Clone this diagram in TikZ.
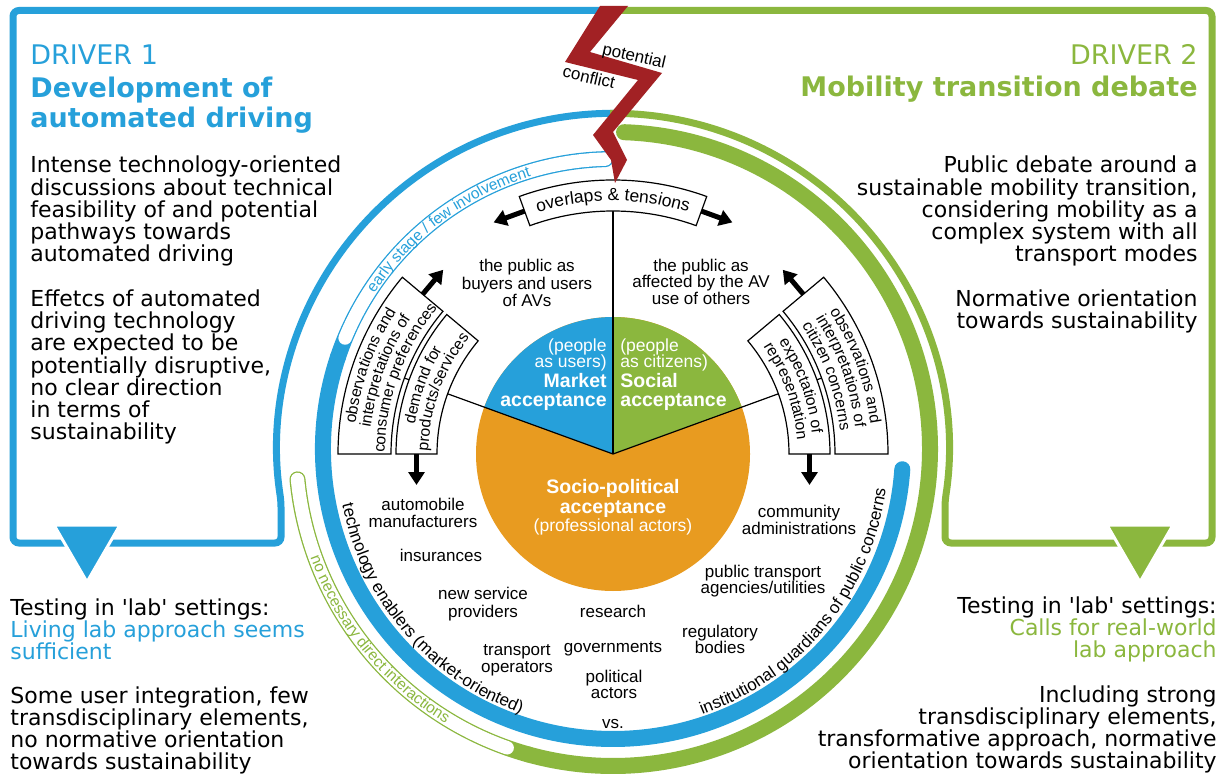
\documentclass[tikz,border=0pt]{standalone}
\usepackage{fontspec}
\setmainfont{DejaVu Sans}
\newfontfamily\ar{Liberation Sans}
\usetikzlibrary{arrows.meta}
\definecolor{cb}{HTML}{26A0DA}
\definecolor{cg}{HTML}{8BB73E}
\definecolor{co}{HTML}{E89B20}
\definecolor{cr}{HTML}{A22124}
\newcommand\myfs[1]{\fontsize{#1}{#1}\selectfont}
\newcounter{mych}
\newcommand\myplacechar[6]{\stepcounter{mych}\node[inner sep=0pt,anchor=base,rotate=#3,font=#4,text=#5] (ch\arabic{mych}) at (#1:#2) {#6};}
\ExplSyntaxOn
\fp_new:N \l_myarc_tot_fp
\fp_new:N \l_myarc_pos_fp
\fp_new:N \l_myarc_w_fp
\fp_new:N \l_myarc_cw_fp
\fp_new:N \l_myarc_ang_fp
\tl_new:N \l_myarc_chunk_tl
\box_new:N \l_myarc_box
\tl_new:N \g_myarc_tl
\tl_new:N \g_myarcb_tl
\cs_new_protected:Npn \myarc_flush:nnnnnn #1#2#3#4#5#6
  {
    \tl_if_empty:NF \l_myarc_chunk_tl
      {
        \fp_set:Nn \l_myarc_ang_fp { #5 + (#6) * ( \l_myarc_pos_fp + \l_myarc_cw_fp / 2 - \l_myarc_tot_fp / 2 ) / (#4) * 180 / pi }
        \tl_gput_right:cx { g_ #1 _tl }
          {
            \exp_not:N \myplacechar
              { \fp_eval:n { round(\l_myarc_ang_fp, 3) } }
              { #4 }
              { \fp_eval:n { round(0 - \l_myarc_ang_fp - 90 * (#6), 3) } }
              { \exp_not:n { #2 } }
              { #3 }
              { \exp_not:V \l_myarc_chunk_tl }
          }
        \fp_add:Nn \l_myarc_pos_fp { \l_myarc_cw_fp }
        \tl_clear:N \l_myarc_chunk_tl
        \fp_zero:N \l_myarc_cw_fp
      }
  }
\cs_new_protected:Npn \myarcprep #1#2#3#4#5#6#7
  {
    \fp_zero:N \l_myarc_tot_fp
    \str_map_inline:nn { #7 }
      {
        \hbox_set:Nn \l_myarc_box { #2 ##1 }
        \fp_add:Nn \l_myarc_tot_fp { 2 * \dim_to_fp:n { \box_wd:N \l_myarc_box } }
      }
    \fp_zero:N \l_myarc_pos_fp
    \fp_zero:N \l_myarc_cw_fp
    \tl_clear:N \l_myarc_chunk_tl
    \str_map_inline:nn { #7 }
      {
        \hbox_set:Nn \l_myarc_box { #2 ##1 }
        \fp_set:Nn \l_myarc_w_fp { 2 * \dim_to_fp:n { \box_wd:N \l_myarc_box } }
        \tl_if_blank:nTF { ##1 }
          {
            \myarc_flush:nnnnnn {#1}{#2}{#3}{#4}{#5}{#6}
            \fp_add:Nn \l_myarc_pos_fp { \l_myarc_w_fp }
          }
          {
            \fp_compare:nNnT { \l_myarc_cw_fp + \l_myarc_w_fp } > { 34 }
              { \myarc_flush:nnnnnn {#1}{#2}{#3}{#4}{#5}{#6} }
            \tl_put_right:Nn \l_myarc_chunk_tl { ##1 }
            \fp_add:Nn \l_myarc_cw_fp { \l_myarc_w_fp }
          }
      }
    \myarc_flush:nnnnnn {#1}{#2}{#3}{#4}{#5}{#6}
  }
\cs_new_protected:Npn \myarcdraw { \tl_use:N \g_myarc_tl }
\cs_new_protected:Npn \myarcdrawb { \tl_use:N \g_myarcb_tl }
\ExplSyntaxOff
\begin{document}
\myarcprep{myarc}{\ar\myfs{7.9}}{black}{259}{200}{1}{observations and}%
\myarcprep{myarc}{\ar\myfs{7.9}}{black}{243.5}{200}{1}{interpretations of}%
\myarcprep{myarc}{\ar\myfs{7.9}}{black}{228}{200}{1}{consumer preferences}%
\myarcprep{myarc}{\ar\myfs{7.9}}{black}{200}{200}{1}{demand for}%
\myarcprep{myarc}{\ar\myfs{7.9}}{black}{184.5}{200}{1}{products/services}%
\myarcprep{myarc}{\ar\myfs{7.9}}{black}{259}{340}{1}{observations and}%
\myarcprep{myarc}{\ar\myfs{7.9}}{black}{243.5}{340}{1}{interpretations of}%
\myarcprep{myarc}{\ar\myfs{7.9}}{black}{228}{340}{1}{citizen concerns}%
\myarcprep{myarc}{\ar\myfs{7.9}}{black}{200}{340}{1}{expectation of}%
\myarcprep{myarc}{\ar\myfs{7.9}}{black}{184.5}{340}{1}{representation}%
\myarcprep{myarc}{\ar\myfs{8.75}}{black}{253}{270}{1}{overlaps & tensions}%
\myarcprep{myarc}{\ar\myfs{8.5}}{black}{275}{139.5}{-1}{technology enablers (market-oriented)}%
\myarcprep{myarc}{\ar\myfs{8.5}}{black}{275}{39.2}{-1}{institutional guardians of public concerns}%
\myarcprep{myarcb}{\ar\myfs{7.75}}{cg}{321.5}{140.8}{-1}{no necessary direct interactions}%
\myarcprep{myarcb}{\ar\myfs{7.75}}{cb}{284.5}{233.2}{1}{early stage / few involvement}%
\begin{tikzpicture}[x=0.5pt,y=-0.5pt,
  side/.style={inner sep=0pt,font=\myfs{11}},
  hdr/.style={inner sep=0pt,font=\myfs{13.5},text=#1},
  hdrb/.style={inner sep=0pt,font=\bfseries\myfs{13.5},text=#1},
  lab/.style={inner sep=0pt,font=\ar\myfs{8.5},anchor=base},
  pier/.style={inner sep=0pt,font=\ar\myfs{8.75},text=white},
  pieb/.style={inner sep=0pt,font=\ar\bfseries\myfs{9.75},text=white},
  boxst/.style={fill=white,draw=black,line width=0.6pt},
  bigarr/.style={line width=2.5pt,-{Triangle[length=6.5pt,width=8pt]}},
  band/.style={line width=8pt,line cap=round},
  hole/.style={white,line width=6.7pt,line cap=round},
  frameln/.style={line width=3.5pt,rounded corners=3pt},
  thinln/.style={line width=0.6pt}]
\fill[white] (0,0) rectangle (1220,780);
\useasboundingbox (0,0) rectangle (1220,780);

% frames with outer rings (ring centre 613,449, radius 336)
\draw[cb,frameln] (600,10.5) -- (13,10.5) -- (13,543) -- (281,543) -- (281,501) arc[start angle=171.15,end angle=270.5,radius=336];
\draw[cg,frameln] (621,10.5) -- (1212,10.5) -- (1212,543) -- (945,543) -- (945,501) arc[start angle=8.85,end angle=-90.5,radius=336];
\filldraw[fill=cb,draw=white,line width=1.5pt] (54,525) -- (120,525) -- (87,582) -- cycle;
\filldraw[fill=cg,draw=white,line width=1.5pt] (1107,525) -- (1173,525) -- (1140,582) -- cycle;

% bands
\begin{scope}[shift={(613,449)}]
  \coordinate (rc) at (0,0);
  \draw[cb,band] (198.5:290) arc[start angle=198.5,end angle=268.5,radius=290];
  \draw[hole] (202.5:290) arc[start angle=202.5,end angle=268.5,radius=290];
  \draw[cb,band] (198.5:290) arc[start angle=198.5,end angle=4,radius=290];
  \draw[cg,band] (105.5:317) arc[start angle=105.5,end angle=174.5,radius=317];
  \draw[hole] (109.5:317) arc[start angle=109.5,end angle=174.5,radius=317];
  \draw[cg,band] (-88:317) arc[start angle=-88,end angle=105.5,radius=317];
  \myarcdrawb
\end{scope}

\begin{scope}[shift={(613,454)}]
  \coordinate (ctr) at (0,0);
  % pie
  \fill[co] (0,0) circle[radius=137];
  \fill[cb] (0,0) -- (200:137) arc[start angle=200,end angle=270,radius=137] -- cycle;
  \fill[cg] (0,0) -- (270:137) arc[start angle=270,end angle=340,radius=137] -- cycle;
  \coordinate (eL) at (200:222);
  \coordinate (eT) at (270:243);
  \coordinate (eR) at (340:222);
  \draw[thinln] (ctr) -- (eL);
  \draw[thinln] (ctr) -- (eT);
  \draw[thinln] (ctr) -- (eR);
  % boxes
  \draw[boxst] (180:222) arc[start angle=180,end angle=220,radius=222] -- (220:275) arc[start angle=220,end angle=180,radius=275] -- cycle;
  \draw[boxst] (180:176) arc[start angle=180,end angle=220,radius=176] -- (220:217) arc[start angle=220,end angle=180,radius=217] -- cycle;
  \draw[boxst] (320:222) arc[start angle=320,end angle=360,radius=222] -- (360:275) arc[start angle=360,end angle=320,radius=275] -- cycle;
  \draw[boxst] (320:176) arc[start angle=320,end angle=360,radius=176] -- (360:217) arc[start angle=360,end angle=320,radius=217] -- cycle;
  \draw[boxst] (250:243) arc[start angle=250,end angle=290,radius=243] -- (290:274) arc[start angle=290,end angle=250,radius=274] -- cycle;
  % arrows
  \coordinate (aLs) at (220:248.5); \coordinate (aLt) at (-169.8,-184.2);
  \coordinate (aRs) at (320:248.5); \coordinate (aRt) at (169.8,-184.2);
  \coordinate (dLs) at (-196.5,0); \coordinate (dLt) at (-196.5,31);
  \coordinate (dRs) at (196.5,0); \coordinate (dRt) at (196.5,31);
  \coordinate (oLs) at (250:258.5); \coordinate (oLt) at (-119.4,-231.6);
  \coordinate (oRs) at (290:258.5); \coordinate (oRt) at (119.4,-231.6);
  \draw[bigarr] (aLs) -- (aLt);
  \draw[bigarr] (aRs) -- (aRt);
  \draw[bigarr] (dLs) -- (dLt);
  \draw[bigarr] (dRs) -- (dRt);
  \draw[bigarr] (oLs) -- (oLt);
  \draw[bigarr] (oRs) -- (oRt);
  % curved texts (boxes and group labels)
  \myarcdraw
\end{scope}

% headers
\node[hdr=cb,anchor=base west] (d1) at (30,65) {DRIVER 1};
\node[hdrb=cb,anchor=base west] (d1a) at (30,98) {Development of};
\node[hdrb=cb,anchor=base west] (d1b) at (30,128) {automated driving};
\node[hdr=cg,anchor=base east] (d2) at (1198,65) {DRIVER 2};
\node[hdrb=cg,anchor=base east] (d2a) at (1198,97) {Mobility transition debate};

% side texts
\foreach \t [count=\i from 0] in {Intense technology-oriented, discussions about technical, feasibility of and potential, pathways towards, automated driving}
  \node[side,anchor=base west] (la\i) at (30,{173+22.2*\i}) {\t};
\foreach \t [count=\i from 0] in {Effetcs of automated, driving technology, are expected to be, {potentially disruptive,}, no clear direction, in terms of, sustainability}
  \node[side,anchor=base west] (lb\i) at (30,{307+22*\i}) {\t};
\foreach \t [count=\i from 0] in {Public debate around a, {sustainable mobility transition,}, considering mobility as a, complex system with all, transport modes}
  \node[side,anchor=base east] (ra\i) at (1198,{173+22.2*\i}) {\t};
\foreach \t [count=\i from 0] in {Normative orientation, towards sustainability}
  \node[side,anchor=base east] (rb\i) at (1198,{307+22*\i}) {\t};

\node[side,anchor=base west] (bl0) at (10,615) {Testing in \textquotesingle lab\textquotesingle{} settings:};
\node[side,anchor=base west,text=cb] (bl1) at (10,637) {Living lab approach seems};
\node[side,anchor=base west,text=cb] (bl2) at (10,659) {sufficient};
\foreach \t [count=\i from 0] in {{Some user integration, few}, {transdisciplinary elements,}, no normative orientation, towards sustainability}
  \node[side,anchor=base west] (bm\i) at (10,{703+22*\i}) {\t};

\node[side,anchor=base east] (br0) at (1217,613) {Testing in \textquotesingle lab\textquotesingle{} settings:};
\node[side,anchor=base east,text=cg] (br1) at (1217,635) {Calls for real-world};
\node[side,anchor=base east,text=cg] (br2) at (1217,657) {lab approach};
\foreach \t [count=\i from 0] in {Including strong, {transdisciplinary elements,}, {transformative approach, normative}, orientation towards sustainability}
  \node[side,anchor=base east] (bn\i) at (1217,{702+22*\i}) {\t};

% public labels
\node[lab] (pa1) at (527,272) {the public as};
\node[lab] (pa2) at (527,290) {buyers and users};
\node[lab] (pa3) at (527,307) {of AVs};
\node[lab] (pb1) at (701,272) {the public as};
\node[lab] (pb2) at (701,288) {affected by the AV};
\node[lab] (pb3) at (701,305) {use of others};

% pie labels
\node[pier,anchor=base east] (m1) at (607,352) {(people};
\node[pier,anchor=base east] (m2) at (607,368) {as users)};
\node[pieb,anchor=base east] (m3) at (607,387) {Market};
\node[pieb,anchor=base east] (m4) at (607,407) {acceptance};
\node[pier,anchor=base west] (s1) at (620,352) {(people};
\node[pier,anchor=base west] (s2) at (620,368) {as citizens)};
\node[pieb,anchor=base west] (s3) at (620,387) {Social};
\node[pieb,anchor=base west] (s4) at (620,407) {acceptance};
\node[pieb,anchor=base] (o1) at (613,493) {Socio-political};
\node[pieb,anchor=base] (o2) at (613,513) {acceptance};
\node[pier,anchor=base] (o3) at (613,531) {(professional actors)};

% actors
\node[lab] (c1) at (423,510) {automobile};
\node[lab] (c2) at (423,527) {manufacturers};
\node[lab] (c3) at (441,561) {insurances};
\node[lab] (c4) at (483,599) {new service};
\node[lab] (c5) at (483,617) {providers};
\node[lab] (c6) at (517,655) {transport};
\node[lab] (c7) at (517,672) {operators};
\node[lab] (c8) at (613,617) {research};
\node[lab] (c9) at (613,652) {governments};
\node[lab] (c10) at (614,682) {political};
\node[lab] (c11) at (614,698) {actors};
\node[lab] (c12) at (613,728) {vs.};
\node[lab] (g1) at (799,517) {community};
\node[lab] (g2) at (799,534) {administrations};
\node[lab] (g3) at (763,577) {public transport};
\node[lab] (g4) at (763,593) {agencies/utilities};
\node[lab] (g5) at (720,637) {regulatory};
\node[lab] (g6) at (720,653) {bodies};

% lightning bolt
\fill[cr] (600,6) -- (565,62) -- (638,80) -- (593,135) -- (611,160) -- (615,183) -- (627,160) -- (613,132) -- (662,73) -- (590,52) -- (628,6) -- cycle;
\node[inner sep=0pt,font=\ar\myfs{8.5},rotate=-13] (pot) at (634,57) {potential};
\node[inner sep=0pt,font=\ar\myfs{8.5},rotate=-13] (con) at (589,77) {conflict};
\end{tikzpicture}
\end{document}
